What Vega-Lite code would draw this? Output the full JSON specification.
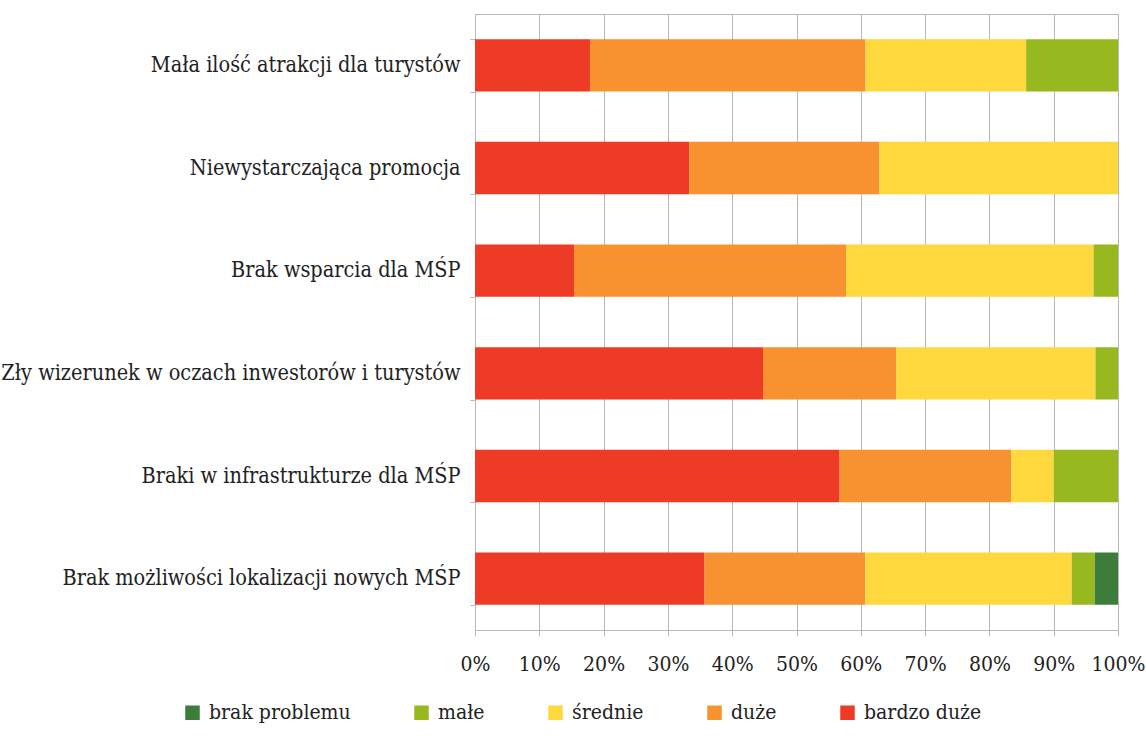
{
  "$schema": "https://vega.github.io/schema/vega-lite/v6.json",
  "width": 643,
  "height": 616,
  "autosize": {"type": "none"},
  "padding": {"left": 475, "top": 14, "right": 28, "bottom": 118},
  "background": "white",
  "data": {
    "values": [
      {"problem": "Mała ilość atrakcji dla turystów", "level": "bardzo duże", "rank": 1, "pct": 17.9},
      {"problem": "Mała ilość atrakcji dla turystów", "level": "duże", "rank": 2, "pct": 42.9},
      {"problem": "Mała ilość atrakcji dla turystów", "level": "średnie", "rank": 3, "pct": 25.0},
      {"problem": "Mała ilość atrakcji dla turystów", "level": "małe", "rank": 4, "pct": 14.3},
      {"problem": "Niewystarczająca promocja", "level": "bardzo duże", "rank": 1, "pct": 33.3},
      {"problem": "Niewystarczająca promocja", "level": "duże", "rank": 2, "pct": 29.6},
      {"problem": "Niewystarczająca promocja", "level": "średnie", "rank": 3, "pct": 37.1},
      {"problem": "Brak wsparcia dla MŚP", "level": "bardzo duże", "rank": 1, "pct": 15.4},
      {"problem": "Brak wsparcia dla MŚP", "level": "duże", "rank": 2, "pct": 42.3},
      {"problem": "Brak wsparcia dla MŚP", "level": "średnie", "rank": 3, "pct": 38.5},
      {"problem": "Brak wsparcia dla MŚP", "level": "małe", "rank": 4, "pct": 3.8},
      {"problem": "Zły wizerunek w oczach inwestorów i turystów", "level": "bardzo duże", "rank": 1, "pct": 44.8},
      {"problem": "Zły wizerunek w oczach inwestorów i turystów", "level": "duże", "rank": 2, "pct": 20.7},
      {"problem": "Zły wizerunek w oczach inwestorów i turystów", "level": "średnie", "rank": 3, "pct": 31.0},
      {"problem": "Zły wizerunek w oczach inwestorów i turystów", "level": "małe", "rank": 4, "pct": 3.5},
      {"problem": "Braki w infrastrukturze dla MŚP", "level": "bardzo duże", "rank": 1, "pct": 56.7},
      {"problem": "Braki w infrastrukturze dla MŚP", "level": "duże", "rank": 2, "pct": 26.7},
      {"problem": "Braki w infrastrukturze dla MŚP", "level": "średnie", "rank": 3, "pct": 6.6},
      {"problem": "Braki w infrastrukturze dla MŚP", "level": "małe", "rank": 4, "pct": 10.0},
      {"problem": "Brak możliwości lokalizacji nowych MŚP", "level": "bardzo duże", "rank": 1, "pct": 35.7},
      {"problem": "Brak możliwości lokalizacji nowych MŚP", "level": "duże", "rank": 2, "pct": 25.0},
      {"problem": "Brak możliwości lokalizacji nowych MŚP", "level": "średnie", "rank": 3, "pct": 32.1},
      {"problem": "Brak możliwości lokalizacji nowych MŚP", "level": "małe", "rank": 4, "pct": 3.6},
      {"problem": "Brak możliwości lokalizacji nowych MŚP", "level": "brak problemu", "rank": 5, "pct": 3.6}
    ]
  },
  "mark": {"type": "bar", "stroke": null},
  "encoding": {
    "y": {
      "field": "problem",
      "type": "nominal",
      "sort": [
        "Mała ilość atrakcji dla turystów",
        "Niewystarczająca promocja",
        "Brak wsparcia dla MŚP",
        "Zły wizerunek w oczach inwestorów i turystów",
        "Braki w infrastrukturze dla MŚP",
        "Brak możliwości lokalizacji nowych MŚP"
      ],
      "scale": {"paddingInner": 0.49, "paddingOuter": 0.245},
      "axis": {
        "title": null,
        "tickBand": "extent",
        "grid": false,
        "domainColor": "#b8b8b8",
        "tickColor": "#b8b8b8",
        "tickSize": 5,
        "labelPadding": 10,
        "labelFont": "DejaVu Serif Condensed",
        "labelFontSize": 21.5,
        "labelColor": "#222222",
        "labelLimit": 0
      }
    },
    "x": {
      "field": "pct",
      "type": "quantitative",
      "stack": "normalize",
      "scale": {"domain": [0, 1], "nice": false},
      "axis": {
        "title": null,
        "format": ".0%",
        "values": [0, 0.1, 0.2, 0.3, 0.4, 0.5, 0.6, 0.7, 0.8, 0.9, 1],
        "grid": true,
        "gridColor": "#b8b8b8",
        "gridWidth": 1,
        "domainColor": "#b8b8b8",
        "tickColor": "#b8b8b8",
        "tickSize": 6,
        "labelPadding": 17,
        "labelFont": "DejaVu Serif Condensed",
        "labelFontSize": 21,
        "labelColor": "#222222",
        "labelFlush": false
      }
    },
    "order": {"field": "rank", "type": "quantitative", "sort": "ascending"},
    "color": {
      "field": "level",
      "type": "nominal",
      "sort": ["brak problemu", "małe", "średnie", "duże", "bardzo duże"],
      "scale": {
        "domain": ["brak problemu", "małe", "średnie", "duże", "bardzo duże"],
        "range": ["#3d7c3b", "#97b81f", "#fed83c", "#f8912f", "#ee3b26"]
      },
      "legend": {
        "title": null,
        "orient": "none",
        "direction": "horizontal",
        "legendX": -293,
        "legendY": 688,
        "symbolType": "square",
        "symbolSize": 210,
        "symbolStrokeWidth": 0,
        "labelFont": "DejaVu Serif Condensed",
        "labelFontSize": 21,
        "labelColor": "#222222",
        "labelOffset": 6,
        "columnPadding": 60,
        "labelLimit": 0
      }
    }
  },
  "config": {
    "view": {"stroke": "#b8b8b8", "strokeWidth": 1},
    "axis": {"domainWidth": 1, "tickWidth": 1}
  }
}
